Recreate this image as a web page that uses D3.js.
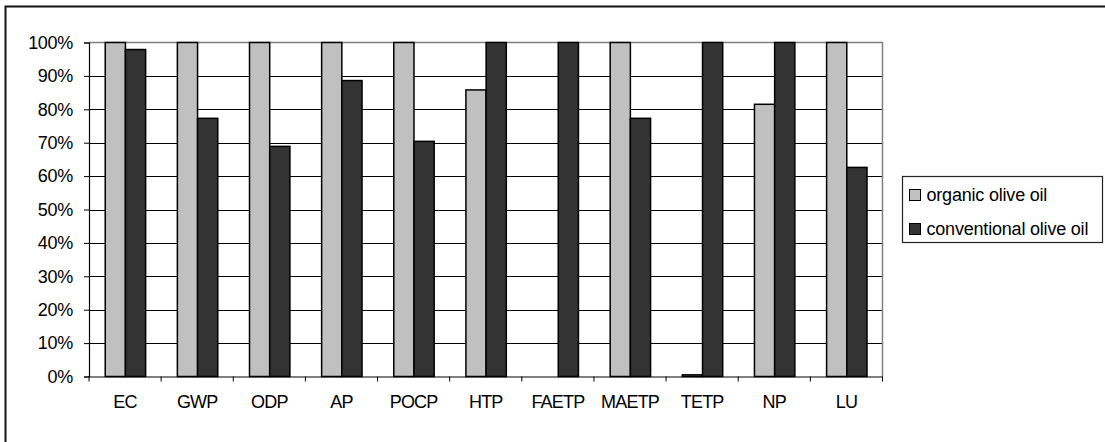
<!DOCTYPE html>
<html>
<head>
<meta charset="utf-8">
<script src="https://cdn.jsdelivr.net/npm/d3@7"></script>
<style>
  html, body { margin: 0; padding: 0; background: #fff; }
  svg { display: block; font-family: "Liberation Sans", Arial, sans-serif; }
</style>
</head>
<body>
<svg id="chart" width="1105" height="442"></svg>
<script>
const categories = ["EC", "GWP", "ODP", "AP", "POCP", "HTP", "FAETP", "MAETP", "TETP", "NP", "LU"];
const seriesNames = ["organic olive oil", "conventional olive oil"];
const organic = [100, 100, 100, 100, 100, 85.8, 0, 100, 0.5, 81.5, 100];
const conventional = [97.9, 77.3, 68.9, 88.6, 70.4, 100, 100, 77.3, 100, 100, 62.6];
const yTicks = [0, 10, 20, 30, 40, 50, 60, 70, 80, 90, 100];
const colors = ["#c0c0c0", "#333333"];

const svg = d3.select("#chart");

// outer frame: only left and top edges are inside the picture
svg.append("path")
  .attr("d", "M5.5,450V6.5H1110")
  .attr("fill", "none").attr("stroke", "#111").attr("stroke-width", 2);

const plot = { left: 89, right: 882.5, top: 42.5, bottom: 376.5 };

const x = d3.scaleBand().domain(categories).range([plot.left, plot.right]).paddingInner(0).paddingOuter(0);
const xs = d3.scaleBand().domain(seriesNames)
  .range([x.bandwidth() * 0.225, x.bandwidth() * 0.785]).padding(0);
const y = d3.scaleLinear().domain([0, 100]).range([plot.bottom, plot.top]);

// gridlines
svg.append("g").selectAll("line").data(yTicks.filter(d => d > 0 && d < 100)).join("line")
  .attr("x1", plot.left).attr("x2", plot.right)
  .attr("y1", d => Math.round(y(d)) + 0.5).attr("y2", d => Math.round(y(d)) + 0.5)
  .attr("stroke", "#000").attr("stroke-width", 1);

// plot border top & right (grey)
svg.append("path")
  .attr("d", `M${plot.left},${plot.top}H${plot.right}V${plot.bottom}`)
  .attr("fill", "none").attr("stroke", "#808080").attr("stroke-width", 1.5);

// bars
const data = categories.map((c, i) => ({ c, vals: [organic[i], conventional[i]] }));
const groups = svg.append("g").selectAll("g").data(data).join("g")
  .attr("transform", d => `translate(${x(d.c)},0)`);
groups.selectAll("rect").data(d => d.vals.map((v, j) => ({ v, s: seriesNames[j], j }))).join("rect")
  .filter(d => d.v > 0)
  .attr("x", d => xs(d.s))
  .attr("y", d => y(d.v))
  .attr("width", xs.bandwidth())
  .attr("height", d => Math.max(0.5, y(0) - y(d.v)))
  .attr("fill", d => colors[d.j])
  .attr("stroke", "#000").attr("stroke-width", 1.5);

// y axis
const yAxis = d3.axisLeft(y).tickValues(yTicks).tickFormat(d => d + "%").tickSize(5).tickPadding(11);
const gy = svg.append("g").attr("transform", `translate(${plot.left},0)`).call(yAxis);
gy.select(".domain").attr("stroke", "#000").attr("stroke-width", 1.2);
gy.selectAll(".tick line").attr("stroke", "#000");
gy.selectAll(".tick text").attr("font-size", 18).attr("fill", "#000")
  .attr("font-family", "'Liberation Sans', Arial, sans-serif").attr("letter-spacing", "-0.3px");

// x axis
const xAxis = d3.axisBottom(x).tickSize(0).tickPadding(19);
const gx = svg.append("g").attr("transform", `translate(0,${plot.bottom})`).call(xAxis);
gx.select(".domain").attr("stroke", "#000").attr("stroke-width", 1.2);
gx.selectAll(".tick text").attr("font-size", 18).attr("fill", "#000")
  .attr("font-family", "'Liberation Sans', Arial, sans-serif").attr("letter-spacing", "-0.8px");
// category boundary ticks
gx.append("g").selectAll("line").data(categories.concat(["_end"])).join("line")
  .attr("x1", (d, i) => plot.left + i * x.step()).attr("x2", (d, i) => plot.left + i * x.step())
  .attr("y1", 0).attr("y2", 5).attr("stroke", "#000");

// legend
const lg = svg.append("g").attr("transform", "translate(902.5,176.5)");
lg.append("rect").attr("width", 200).attr("height", 66)
  .attr("fill", "#fff").attr("stroke", "#222").attr("stroke-width", 1.2);
const li = lg.selectAll("g").data(seriesNames).join("g")
  .attr("transform", (d, i) => `translate(7,${13 + i * 34})`);
li.append("rect").attr("width", 11).attr("height", 11)
  .attr("fill", (d, i) => colors[i]).attr("stroke", "#000").attr("stroke-width", 1);
li.append("text").text(d => d).attr("x", 17).attr("y", 5.5).attr("dy", "0.35em")
  .attr("font-size", 18).attr("fill", "#000").attr("letter-spacing", "-0.2px");
</script>
</body>
</html>
